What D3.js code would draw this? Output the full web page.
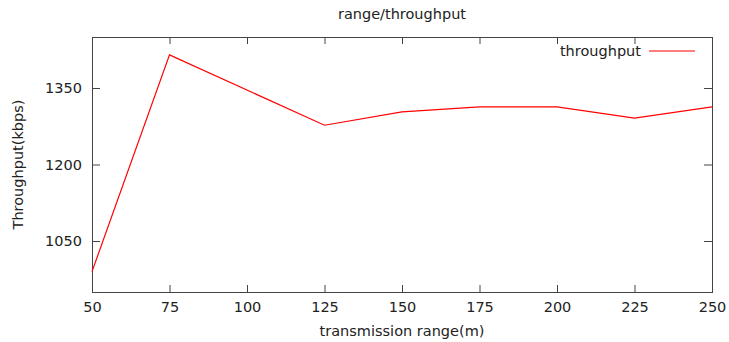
<!DOCTYPE html>
<html>
<head>
<meta charset="utf-8">
<script src="https://cdn.jsdelivr.net/npm/d3@7"></script>
<style>
  html, body { margin: 0; padding: 0; background: #fff; }
  svg { display: block; }
  text { font-family: "DejaVu Sans", sans-serif; fill: #222; }
</style>
</head>
<body>
<svg id="chart" width="729" height="342"></svg>
<script>
const chartTitle = "range/throughput";
const xLabel = "transmission range(m)";
const yLabel = "Throughput(kbps)";
const seriesName = "throughput";
const ranges = [50, 75, 125, 150, 175, 200, 225, 250];
const throughput = [990, 1415, 1277, 1303, 1313, 1313, 1291, 1313];
const xTicks = [50, 75, 100, 125, 150, 175, 200, 225, 250];
const yTicks = [1050, 1200, 1350];
const xDomain = [50, 250];
const yDomain = [950, 1450];

const W = 729, H = 342;
const m = { left: 92, right: 17, top: 37, bottom: 50 };
const svg = d3.select("#chart");
const x = d3.scaleLinear().domain(xDomain).range([m.left, W - m.right]);
const y = d3.scaleLinear().domain(yDomain).range([H - m.bottom, m.top]);
const axisColor = "#444";
const fs = 14.5;

function styleAxis(g) {
  g.select(".domain").remove();
  g.selectAll(".tick line").attr("stroke", axisColor).attr("stroke-width", 1);
  g.selectAll(".tick text").attr("font-size", fs).attr("fill", "#222")
    .attr("font-family", "DejaVu Sans, sans-serif");
}

// bottom axis
svg.append("g").attr("transform", `translate(0,${H - m.bottom})`)
  .call(d3.axisBottom(x).tickValues(xTicks).tickSize(-7).tickPadding(10).tickFormat(d3.format("d")))
  .call(styleAxis);
// top mirror
svg.append("g").attr("transform", `translate(0,${m.top})`)
  .call(d3.axisTop(x).tickValues(xTicks).tickSize(-7).tickFormat(""))
  .call(styleAxis);
// left axis
svg.append("g").attr("transform", `translate(${m.left},0)`)
  .call(d3.axisLeft(y).tickValues(yTicks).tickSize(-8).tickPadding(10).tickFormat(d3.format("d")))
  .call(styleAxis);
// right mirror
svg.append("g").attr("transform", `translate(${W - m.right},0)`)
  .call(d3.axisRight(y).tickValues(yTicks).tickSize(-8).tickFormat(""))
  .call(styleAxis);

// border
svg.append("rect")
  .attr("x", m.left + 0.5).attr("y", m.top + 0.5)
  .attr("width", W - m.right - m.left).attr("height", H - m.bottom - m.top)
  .attr("fill", "none").attr("stroke", axisColor).attr("stroke-width", 1);

// line
const pts = ranges.map((r, i) => [r, throughput[i]]);
svg.append("path").datum(pts)
  .attr("fill", "none").attr("stroke", "#ff0000").attr("stroke-width", 1.2)
  .attr("d", d3.line().x(d => x(d[0])).y(d => y(d[1])));

// title
svg.append("text").attr("x", (m.left + W - m.right) / 2).attr("y", 19)
  .attr("text-anchor", "middle").attr("font-size", fs).text(chartTitle);
// x label
svg.append("text").attr("x", (m.left + W - m.right) / 2).attr("y", 336)
  .attr("text-anchor", "middle").attr("font-size", fs).text(xLabel);
// y label
svg.append("text")
  .attr("transform", `translate(23,${(m.top + H - m.bottom) / 2}) rotate(-90)`)
  .attr("text-anchor", "middle").attr("font-size", fs).text(yLabel);

// legend
svg.append("text").attr("x", 641).attr("y", 56)
  .attr("text-anchor", "end").attr("font-size", fs).text(seriesName);
svg.append("line").attr("x1", 649).attr("x2", 695).attr("y1", 51).attr("y2", 51)
  .attr("stroke", "#ff0000").attr("stroke-width", 1.2);
</script>
</body>
</html>
